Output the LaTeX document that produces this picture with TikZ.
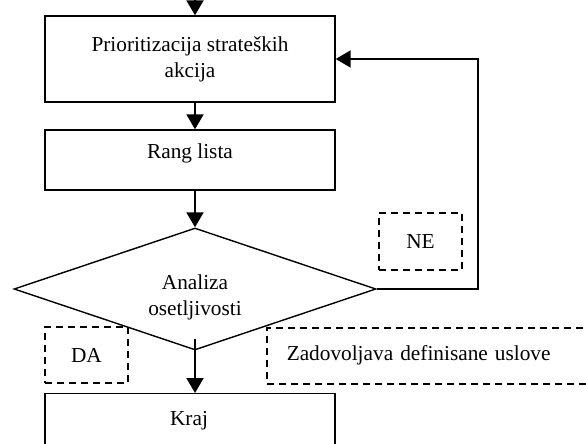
\documentclass[tikz,border=0pt]{standalone}
\usepackage{fontspec}
\setmainfont{Liberation Serif}
\usetikzlibrary{arrows.meta,shapes.geometric}

\tikzset{
  box/.style={draw, line width=1.4pt, rectangle, minimum width=290pt, inner sep=0pt},
  decision/.style={draw, line width=1.4pt, diamond, aspect=3, inner sep=0pt,
                   minimum width=362pt, minimum height=122pt},
  dashbox/.style={draw, line width=1.5pt, dash pattern=on 7pt off 5pt, inner sep=0pt},
  flow/.style={line width=2pt, -{Triangle[length=15pt,width=17pt]}},
  txt/.style={align=center, inner sep=0pt}
}

\begin{document}
\begin{tikzpicture}[x=1pt, y=-1pt, font=\fontsize{21.3}{26}\selectfont]
    \clip (0,0) rectangle (586,444);

    % boxes
    \node[box, minimum height=86pt, align=center] (prio) at (190,59)
        {Prioritizacija strateških\\akcija};
    \node[box, minimum height=60pt] (rang) at (190,160) {};
    \node[txt] (rangtext) at (190,153) {Rang lista};

    % decision
    \node[decision] (dec) at (195,289) {};
    \node[txt] (dectext) at (195,297) {Analiza\\osetljivosti};

    % end box (runs off the bottom)
    \node[box, anchor=north, minimum height=90pt] (kraj) at (190,393) {};
    \node[txt] (krajtext) at (189,421) {Kraj};

    % dashed labels
    \node[dashbox, minimum width=83pt, minimum height=57pt] (ne) at (420.5,241.5) {NE};
    \node[dashbox, minimum width=83pt, minimum height=56pt] (da) at (86.5,355) {DA};
    \node[dashbox, anchor=north west, minimum height=56pt, text width=300pt,
          inner xsep=20pt, align=left] (uslov) at (266,327) {Zadovoljava definisane uslove};

    % connectors
    \coordinate (start) at (195,0);
    \coordinate (back) at (478,294);
    \draw[flow] (start) -- (start |- prio.north);
    \draw[flow] (prio.south -| start) -- (rang.north -| start);
    \draw[flow] (rang.south -| start) -- (dec.north);
    \draw[flow] ([yshift=12pt]dec.south) -- (kraj.north -| start);
    \draw[flow] (dec.east) -- (dec.east -| back) -- (back |- prio.east) -- (prio.east);
\end{tikzpicture}
\end{document}
